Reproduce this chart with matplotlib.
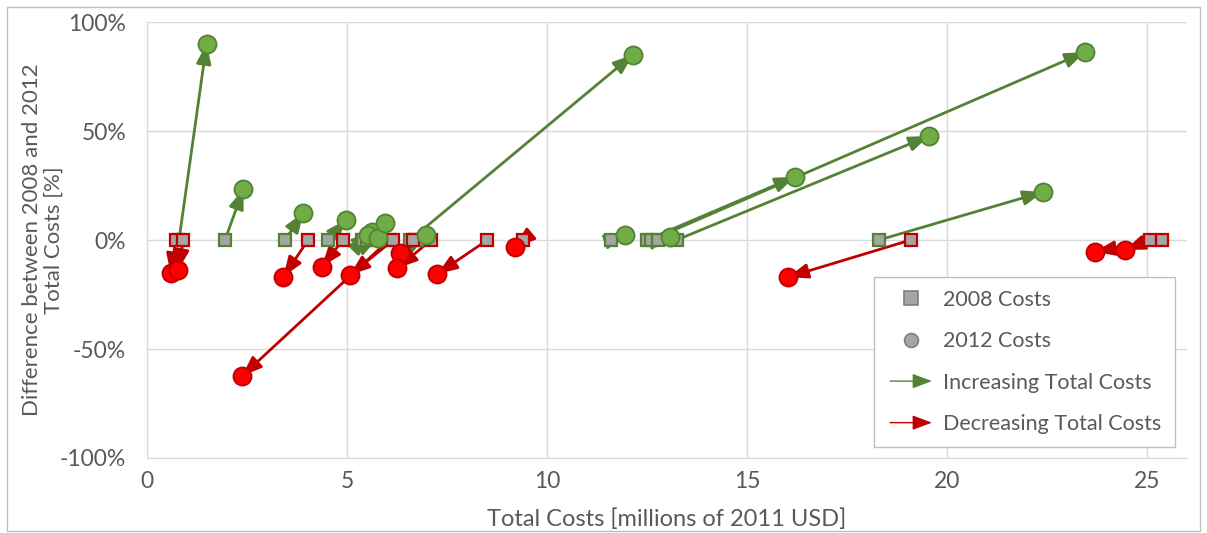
import matplotlib
matplotlib.use("Agg")
import matplotlib.pyplot as plt
from matplotlib.lines import Line2D
from matplotlib.patches import FancyArrowPatch, Rectangle
from matplotlib.legend_handler import HandlerPatch

plt.rcParams['font.family'] = ['Lato', 'DejaVu Sans']

# projects with increasing total costs (2008 cost, 2012 cost, % change)
inc_2008 = [0.80, 1.95, 3.45, 4.53, 5.37, 5.41, 5.69, 5.51, 6.58, 6.78, 11.59, 12.49, 12.60, 12.78, 13.24, 18.30]
inc_2012 = [1.49, 2.41, 3.91, 4.98, 5.62, 5.53, 5.77, 5.95, 12.15, 6.98, 11.95, 16.20, 23.45, 13.08, 19.55, 22.40]
inc_pct = [90, 23.4, 12.5, 9.2, 3.8, 2.3, 0.8, 7.6, 85, 2.3, 2.3, 29, 86.2, 1.5, 47.7, 22]

# projects with decreasing total costs
dec_2008 = [0.72, 0.91, 4.03, 4.90, 6.05, 6.16, 6.64, 7.10, 8.51, 9.41, 19.09, 25.08, 25.37]
dec_2012 = [0.59, 0.78, 3.41, 4.37, 2.375, 5.075, 6.325, 6.26, 7.26, 9.20, 16.03, 24.45, 23.70]
dec_pct = [-15.3, -13.8, -16.8, -12.2, -62.4, -16.0, -6.1, -13.0, -15.6, -3.2, -17.0, -4.6, -5.4]

x_ticks = [0, 5, 10, 15, 20, 25]
y_ticks = [-100, -50, 0, 50, 100]

green_line = '#548235'
green_fill = '#70ad47'
red_line = '#c00000'
red_fill = '#ff0000'
sq_fill = '#a5a5a5'
text_col = '#595959'
grid_col = '#d9d9d9'
arrow_style = '-|>,head_length=0.8,head_width=0.3'

fig = plt.figure(figsize=(12.07, 5.33), dpi=100)
ax = fig.add_axes([147/1207, 1-458/533, 1040/1207, 436/533])

# outer chart border
fig.patches.append(Rectangle((7/1207, 2/533), 1193/1207, 524/533, transform=fig.transFigure,
                             fill=False, edgecolor='#bfbfbf', lw=1))


def draw_group(x08, x12, pct, line_c, fill_c):
    for a, b, p in zip(x08, x12, pct):
        ax.annotate('', xy=(b, p), xytext=(a, 0),
                    arrowprops=dict(arrowstyle=arrow_style, color=line_c, lw=2,
                                    mutation_scale=15, shrinkA=0, shrinkB=0), zorder=2)
    ax.plot(x08, [0]*len(x08), 's', ms=8, mfc=sq_fill, mec=line_c, mew=1.6, ls='none', zorder=3)
    ax.plot(x12, pct, 'o', ms=13, mfc=fill_c, mec=line_c, mew=1.3, ls='none', zorder=4)


draw_group(inc_2008, inc_2012, inc_pct, green_line, green_fill)
draw_group(dec_2008, dec_2012, dec_pct, red_line, red_fill)

ax.set_xlim(0, 26)
ax.set_ylim(-100, 100)
ax.set_xticks(x_ticks)
ax.set_yticks(y_ticks)
ax.set_yticklabels([f'{v}%' for v in y_ticks])
ax.grid(True, color=grid_col, lw=1)
ax.set_axisbelow(True)
for s in ['top', 'right']:
    ax.spines[s].set_visible(False)
for s in ['left', 'bottom']:
    ax.spines[s].set_color(grid_col)
ax.tick_params(length=0, labelsize=16.5, colors=text_col)
ax.tick_params(axis='y', pad=15)
ax.tick_params(axis='x', pad=9)
ax.set_xlabel('Total Costs [millions of 2011 USD]', fontsize=17, color=text_col, labelpad=12)
ax.set_ylabel('Difference between 2008 and 2012\nTotal Costs [%]', fontsize=16, color=text_col,
              labelpad=-3, linespacing=1.1)


def arrow_handle(legend, orig_handle, xdescent, ydescent, width, height, fontsize):
    return FancyArrowPatch((-xdescent, height/2), (width - xdescent, height/2),
                           arrowstyle=arrow_style, mutation_scale=15, lw=2.2,
                           color=orig_handle.get_edgecolor())


handles = [
    Line2D([], [], marker='s', ls='none', ms=10, mfc=sq_fill, mec='#7f7f7f', mew=1.2),
    Line2D([], [], marker='o', ls='none', ms=10, mfc=sq_fill, mec='#7f7f7f', mew=1.2),
    FancyArrowPatch((0, 0), (1, 0), color=green_line),
    FancyArrowPatch((0, 0), (1, 0), color=red_line),
]
labels = ['2008 Costs', '2012 Costs', 'Increasing Total Costs', 'Decreasing Total Costs']
leg = ax.legend(handles, labels, loc='lower right', bbox_to_anchor=(0.988, 0.025),
                fontsize=15.5, frameon=True, fancybox=False, edgecolor='#bfbfbf', framealpha=1,
                handlelength=2.2, handletextpad=0.4, labelspacing=1.0, borderpad=0.6,
                borderaxespad=0,
                handler_map={FancyArrowPatch: HandlerPatch(patch_func=arrow_handle)})
leg.get_frame().set_linewidth(1)
for t in leg.get_texts():
    t.set_color(text_col)

fig.savefig('out.png', dpi=100)
